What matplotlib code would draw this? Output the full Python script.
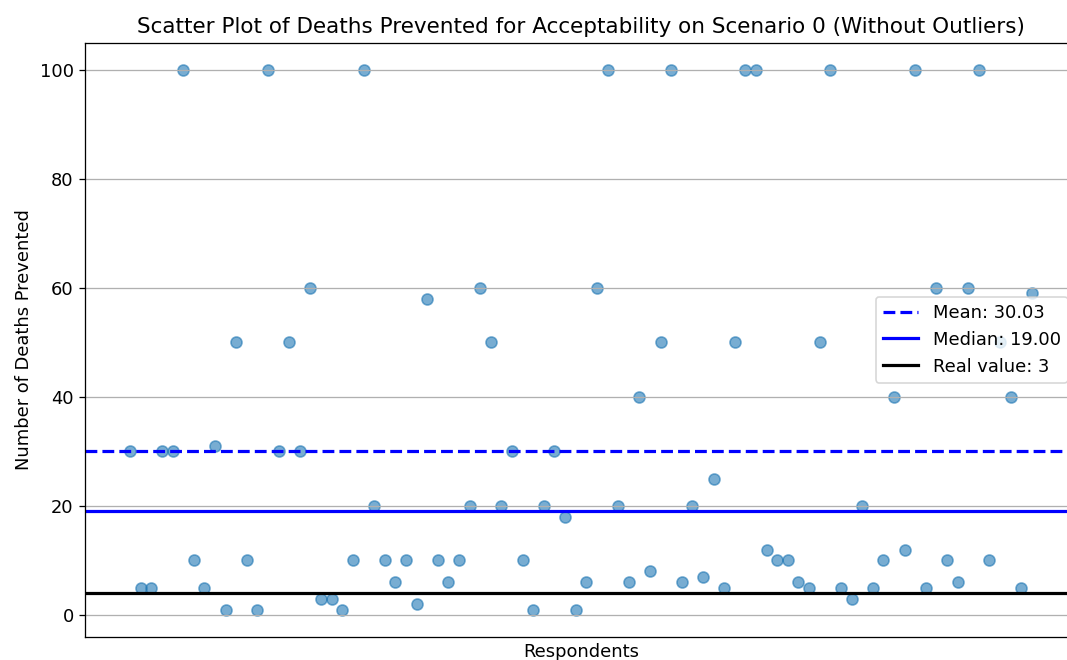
import numpy as np
import matplotlib
matplotlib.use("Agg")
import matplotlib.pyplot as plt

# deaths prevented answers, one per respondent (outliers already removed)
deaths_prevented = [
    30, 5, 5, 30, 30, 100, 10, 5, 31, 1,
    50, 10, 1, 100, 30, 50, 30, 60, 3, 3,
    1, 10, 100, 20, 10, 6, 10, 2, 58, 10,
    6, 10, 20, 60, 50, 20, 30, 10, 1, 20,
    30, 18, 1, 6, 60, 100, 20, 6, 40, 8,
    50, 100, 6, 20, 7, 25, 5, 50, 100, 100,
    12, 10, 10, 6, 5, 50, 100, 5, 3, 20,
    5, 10, 40, 12, 100, 5, 60, 10, 6, 60,
    100, 10, 50, 40, 5, 59,
]
respondents = list(range(len(deaths_prevented)))
real_value = 3

mean_val = np.mean(deaths_prevented)
median_val = np.median(deaths_prevented)

plt.rcParams['font.size'] = 11.2

fig = plt.figure(figsize=(1067 / 115, 660 / 115), dpi=115)
# axes runs a little past the right edge, like the cropped original
ax = fig.add_axes([85 / 1067, 23.5 / 660, 992 / 1067, 593.5 / 660])

ax.scatter(respondents, deaths_prevented, alpha=0.6, s=48)
ax.axhline(mean_val, color='blue', linestyle='--', linewidth=2, label=f'Mean: {mean_val:.2f}')
ax.axhline(median_val, color='blue', linestyle='-', linewidth=2, label=f'Median: {median_val:.2f}')
ax.axhline(real_value + 1, color='black', linestyle='-', linewidth=2, label=f'Real value: {real_value}')

ax.set_title('Scatter Plot of Deaths Prevented for Acceptability on Scenario 0 (Without Outliers)')
ax.set_xlabel('Respondents')
ax.set_ylabel('Number of Deaths Prevented')
ax.set_xticks([])
ax.grid(True)
ax.legend(loc='center right')

fig.savefig('out.png', dpi=115)
